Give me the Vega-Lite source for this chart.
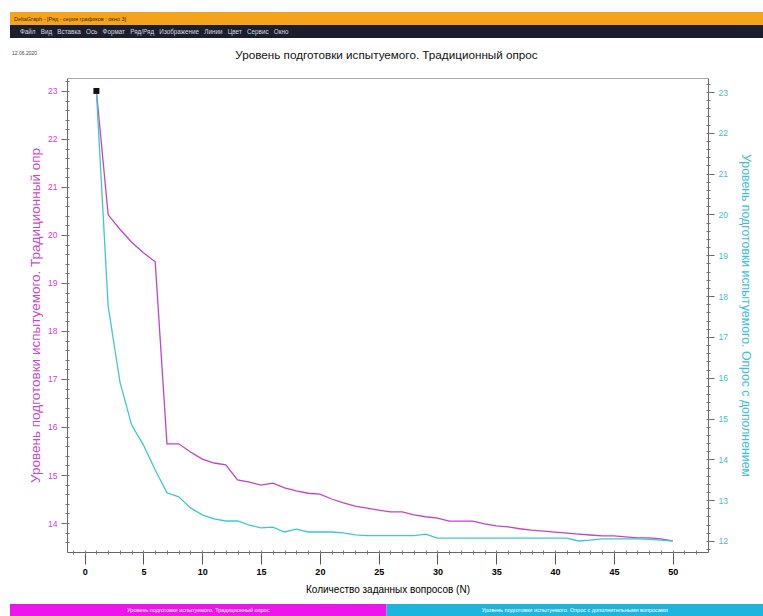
{
  "$schema": "https://vega.github.io/schema/vega-lite/v6.json",
  "background": "white",
  "padding": {"left": 10, "top": 12, "right": 0, "bottom": 0},
  "spacing": 0,
  "bounds": "flush",
  "config": {"view": {"stroke": null}, "font": "Liberation Sans", "concat": {"spacing": 0}},
  "datasets": {
    "trad": [
      {"N": 1, "v": 23}, {"N": 2, "v": 20.42}, {"N": 3, "v": 20.12}, {"N": 4, "v": 19.85}, {"N": 5, "v": 19.63},
      {"N": 6, "v": 19.44}, {"N": 7, "v": 15.65}, {"N": 8, "v": 15.65}, {"N": 9, "v": 15.48}, {"N": 10, "v": 15.33},
      {"N": 11, "v": 15.25}, {"N": 12, "v": 15.21}, {"N": 13, "v": 14.9}, {"N": 14, "v": 14.85}, {"N": 15, "v": 14.79},
      {"N": 16, "v": 14.83}, {"N": 17, "v": 14.73}, {"N": 18, "v": 14.67}, {"N": 19, "v": 14.62}, {"N": 20, "v": 14.6},
      {"N": 21, "v": 14.5}, {"N": 22, "v": 14.42}, {"N": 23, "v": 14.35}, {"N": 24, "v": 14.31}, {"N": 25, "v": 14.27},
      {"N": 26, "v": 14.23}, {"N": 27, "v": 14.23}, {"N": 28, "v": 14.17}, {"N": 29, "v": 14.13}, {"N": 30, "v": 14.1},
      {"N": 31, "v": 14.04}, {"N": 32, "v": 14.04}, {"N": 33, "v": 14.04}, {"N": 34, "v": 13.98}, {"N": 35, "v": 13.94},
      {"N": 36, "v": 13.92}, {"N": 37, "v": 13.88}, {"N": 38, "v": 13.85}, {"N": 39, "v": 13.83}, {"N": 40, "v": 13.81},
      {"N": 41, "v": 13.79}, {"N": 42, "v": 13.77}, {"N": 43, "v": 13.75}, {"N": 44, "v": 13.73}, {"N": 45, "v": 13.73},
      {"N": 46, "v": 13.71}, {"N": 47, "v": 13.69}, {"N": 48, "v": 13.69}, {"N": 49, "v": 13.67}, {"N": 50, "v": 13.63}
    ],
    "dop": [
      {"N": 1, "v": 23}, {"N": 2, "v": 17.75}, {"N": 3, "v": 15.9}, {"N": 4, "v": 14.84}, {"N": 5, "v": 14.35},
      {"N": 6, "v": 13.74}, {"N": 7, "v": 13.18}, {"N": 8, "v": 13.08}, {"N": 9, "v": 12.81}, {"N": 10, "v": 12.64},
      {"N": 11, "v": 12.54}, {"N": 12, "v": 12.49}, {"N": 13, "v": 12.49}, {"N": 14, "v": 12.39}, {"N": 15, "v": 12.32},
      {"N": 16, "v": 12.34}, {"N": 17, "v": 12.22}, {"N": 18, "v": 12.29}, {"N": 19, "v": 12.22}, {"N": 20, "v": 12.22},
      {"N": 21, "v": 12.22}, {"N": 22, "v": 12.2}, {"N": 23, "v": 12.15}, {"N": 24, "v": 12.13}, {"N": 25, "v": 12.13},
      {"N": 26, "v": 12.13}, {"N": 27, "v": 12.13}, {"N": 28, "v": 12.13}, {"N": 29, "v": 12.17}, {"N": 30, "v": 12.07},
      {"N": 31, "v": 12.07}, {"N": 32, "v": 12.07}, {"N": 33, "v": 12.07}, {"N": 34, "v": 12.07}, {"N": 35, "v": 12.07},
      {"N": 36, "v": 12.07}, {"N": 37, "v": 12.07}, {"N": 38, "v": 12.07}, {"N": 39, "v": 12.07}, {"N": 40, "v": 12.07},
      {"N": 41, "v": 12.07}, {"N": 42, "v": 12.0}, {"N": 43, "v": 12.02}, {"N": 44, "v": 12.05}, {"N": 45, "v": 12.05},
      {"N": 46, "v": 12.05}, {"N": 47, "v": 12.05}, {"N": 48, "v": 12.04}, {"N": 49, "v": 12.02}, {"N": 50, "v": 12.0}
    ]
  },
  "vconcat": [
    {
      "width": 753, "height": 13,
      "view": {"fill": "#f5a31a", "stroke": null},
      "data": {"values": [{"t": "DeltaGraph - [Ряд - серия графиков : окно 3]"}]},
      "mark": {"type": "text", "align": "left", "baseline": "middle", "dx": 4, "fontSize": 5.5, "color": "#3a2a10"},
      "encoding": {
        "x": {"field": "t", "type": "nominal", "axis": null, "scale": {"type": "point", "align": 0}},
        "text": {"field": "t"}
      }
    },
    {
      "width": 753, "height": 13,
      "view": {"fill": "#1b1e2c", "stroke": null},
      "data": {"values": [{"t": "Файл\u00a0\u00a0\u00a0Вид\u00a0\u00a0\u00a0Вставка\u00a0\u00a0\u00a0Ось\u00a0\u00a0\u00a0Формат\u00a0\u00a0\u00a0Ряд/Ряд\u00a0\u00a0\u00a0Изображение\u00a0\u00a0\u00a0Линии\u00a0\u00a0\u00a0Цвет\u00a0\u00a0\u00a0Сервис\u00a0\u00a0\u00a0Окно"}]},
      "mark": {"type": "text", "align": "left", "baseline": "middle", "dx": 10, "fontSize": 6.3, "color": "#d8d8e0"},
      "encoding": {
        "x": {"field": "t", "type": "nominal", "axis": null, "scale": {"type": "point", "align": 0}},
        "text": {"field": "t"}
      }
    },
    {
      "width": 753, "height": 40,
      "layer": [
        {
          "data": {"values": [{"t": "12.06.2020"}]},
          "mark": {"type": "text", "align": "left", "baseline": "middle", "dx": 2, "dy": -5, "fontSize": 5, "color": "#444"},
          "encoding": {
            "x": {"field": "t", "type": "nominal", "axis": null, "scale": {"type": "point", "align": 0}},
            "text": {"field": "t"}
          }
        },
        {
          "data": {"values": [{"t": "Уровень подготовки испытуемого. Традиционный опрос"}]},
          "mark": {"type": "text", "align": "center", "baseline": "middle", "dy": -3, "fontSize": 11.7, "color": "#111"},
          "encoding": {"text": {"field": "t"}}
        }
      ]
    },
    {
      "width": 698, "height": 474,
      "view": {"stroke": null},
      "resolve": {"scale": {"y": "independent"}, "axis": {"x": "independent", "y": "independent"}},
      "layer": [
        {
          "data": {"name": "trad"},
          "mark": {"type": "line", "color": "#bf45c6", "strokeWidth": 1.3},
          "encoding": {
            "x": {"field": "N", "type": "quantitative",
              "scale": {"domain": [-1.5, 53], "range": [57, 698], "nice": false, "zero": false},
              "axis": {"orient": "bottom", "values": [0, 5, 10, 15, 20, 25, 30, 35, 40, 45, 50], "format": "d",
                "tickSize": 12, "tickColor": "#555", "domainColor": "#666", "grid": false,
                "labelFontSize": 9, "labelColor": "#000", "labelPadding": 3, "labelFontWeight": "bold",
                "title": "Количество заданных вопросов (N)", "titleFontSize": 10, "titleFontWeight": "normal",
                "titleColor": "#000", "titlePadding": 8}},
            "y": {"field": "v", "type": "quantitative",
              "scale": {"domain": [13.396, 23.27], "nice": false, "zero": false},
              "axis": {"orient": "left", "offset": -57, "values": [14, 15, 16, 17, 18, 19, 20, 21, 22, 23],
                "tickSize": 6, "tickColor": "#666", "domainColor": "#666", "grid": false,
                "labelFontSize": 8.5, "labelColor": "#d040d0", "labelPadding": 4,
                "title": "Уровень подготовки испытуемого. Традиционный опр", "titleFontSize": 13.5,
                "titleFontWeight": "normal", "titleColor": "#c84ac8", "titlePadding": 5}}
          }
        },
        {
          "data": {"name": "trad"},
          "mark": {"type": "line", "opacity": 0},
          "encoding": {
            "x": {"field": "N", "type": "quantitative",
              "scale": {"domain": [-1.5, 53], "range": [57, 698], "nice": false, "zero": false},
              "axis": {"orient": "bottom", "offset": -2, "labels": false, "domain": false, "grid": false,
                "tickSize": 4, "tickColor": "#777", "title": null,
                "values": [-1, 0, 1, 2, 3, 4, 5, 6, 7, 8, 9, 10, 11, 12, 13, 14, 15, 16, 17, 18, 19, 20, 21, 22, 23, 24, 25, 26, 27, 28, 29, 30, 31, 32, 33, 34, 35, 36, 37, 38, 39, 40, 41, 42, 43, 44, 45, 46, 47, 48, 49, 50, 51, 52]}},
            "y": {"field": "v", "type": "quantitative",
              "scale": {"domain": [13.396, 23.27], "nice": false, "zero": false},
              "axis": {"orient": "left", "offset": -59, "labels": false, "domain": false, "grid": false,
                "tickSize": 4, "tickColor": "#777", "title": null,
                "values": [13.6, 13.8, 14, 14.2, 14.4, 14.6, 14.8, 15, 15.2, 15.4, 15.6, 15.8, 16, 16.2, 16.4, 16.6, 16.8, 17, 17.2, 17.4, 17.6, 17.8, 18, 18.2, 18.4, 18.6, 18.8, 19, 19.2, 19.4, 19.6, 19.8, 20, 20.2, 20.4, 20.6, 20.8, 21, 21.2, 21.4, 21.6, 21.8, 22, 22.2, 22.4, 22.6, 22.8, 23, 23.2]}}
          }
        },
        {
          "data": {"name": "dop"},
          "mark": {"type": "line", "color": "#3ec8cc", "strokeWidth": 1.3},
          "encoding": {
            "x": {"field": "N", "type": "quantitative",
              "scale": {"domain": [-1.5, 53], "range": [57, 698], "nice": false, "zero": false},
              "axis": {"orient": "top", "domain": true, "domainColor": "#aaa", "ticks": false, "labels": false, "grid": false, "title": null}},
            "y": {"field": "v", "type": "quantitative",
              "scale": {"domain": [11.73, 23.343], "nice": false, "zero": false},
              "axis": {"orient": "right", "values": [12, 13, 14, 15, 16, 17, 18, 19, 20, 21, 22, 23],
                "tickSize": 6, "tickColor": "#666", "domainColor": "#666", "grid": false,
                "labelFontSize": 8.5, "labelColor": "#3cc2cc", "labelPadding": 4,
                "title": "Уровень подготовки испытуемого. Опрос с дополнением", "titleFontSize": 12.3,
                "titleFontWeight": "normal", "titleColor": "#3cc0d4", "titlePadding": 11}}
          }
        },
        {
          "data": {"name": "dop"},
          "mark": {"type": "line", "opacity": 0},
          "encoding": {
            "x": {"field": "N", "type": "quantitative",
              "scale": {"domain": [-1.5, 53], "range": [57, 698], "nice": false, "zero": false},
              "axis": null},
            "y": {"field": "v", "type": "quantitative",
              "scale": {"domain": [11.73, 23.343], "nice": false, "zero": false},
              "axis": {"orient": "right", "offset": -2, "labels": false, "domain": false, "grid": false,
                "tickSize": 4, "tickColor": "#777", "title": null,
                "values": [11.8, 12, 12.2, 12.4, 12.6, 12.8, 13, 13.2, 13.4, 13.6, 13.8, 14, 14.2, 14.4, 14.6, 14.8, 15, 15.2, 15.4, 15.6, 15.8, 16, 16.2, 16.4, 16.6, 16.8, 17, 17.2, 17.4, 17.6, 17.8, 18, 18.2, 18.4, 18.6, 18.8, 19, 19.2, 19.4, 19.6, 19.8, 20, 20.2, 20.4, 20.6, 20.8, 21, 21.2, 21.4, 21.6, 21.8, 22, 22.2, 22.4, 22.6, 22.8, 23, 23.2]}}
          }
        },
        {
          "data": {"name": "trad"},
          "transform": [{"filter": "datum.N == 1"}],
          "mark": {"type": "point", "shape": "square", "filled": true, "color": "#111", "size": 36, "opacity": 1},
          "encoding": {
            "x": {"field": "N", "type": "quantitative",
              "scale": {"domain": [-1.5, 53], "range": [57, 698], "nice": false, "zero": false},
              "axis": null},
            "y": {"field": "v", "type": "quantitative",
              "scale": {"domain": [13.396, 23.27], "nice": false, "zero": false},
              "axis": null}
          }
        }
      ]
    },
    {
      "width": 753, "height": 52,
      "data": {"values": [{"t": ""}]},
      "mark": {"type": "text"},
      "encoding": {"text": {"field": "t"}}
    },
    {
      "width": 753, "height": 12,
      "data": {"values": [
        {"k": "a", "s": "Уровень подготовки испытуемого. Традиционный опрос"},
        {"k": "b", "s": "Уровень подготовки испытуемого. Опрос с дополнительными вопросами"}
      ]},
      "layer": [
        {
          "mark": {"type": "rect"},
          "encoding": {
            "x": {"field": "k", "type": "nominal", "sort": null, "axis": null,
              "scale": {"type": "band", "paddingInner": 0, "paddingOuter": 0}},
            "color": {"field": "k", "type": "nominal", "legend": null,
              "scale": {"domain": ["a", "b"], "range": ["#ee14ee", "#1bb5de"]}}
          }
        },
        {
          "mark": {"type": "text", "baseline": "middle", "fontSize": 5.5, "color": "#ffffff"},
          "encoding": {
            "x": {"field": "k", "type": "nominal", "sort": null, "axis": null,
              "scale": {"type": "band", "paddingInner": 0, "paddingOuter": 0}},
            "text": {"field": "s"}
          }
        }
      ]
    }
  ]
}
